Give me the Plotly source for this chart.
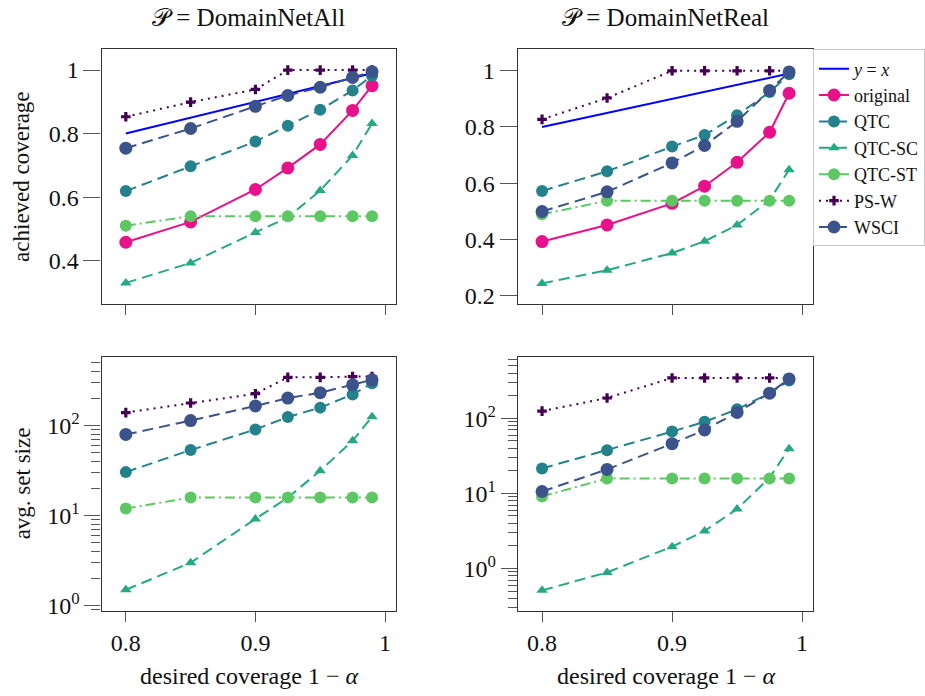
import plotly.graph_objects as go

W, H = 925, 696

# ---- data ----
x_cov = [0.8, 0.85, 0.9, 0.925, 0.95, 0.975, 0.99]
methods = ["original", "QTC", "QTC-SC", "QTC-ST", "PS-W", "WSCI"]

# achieved coverage, P = DomainNetAll
cov_all_original = [0.458, 0.522, 0.624, 0.692, 0.766, 0.873, 0.951]
cov_all_qtc = [0.619, 0.697, 0.775, 0.825, 0.875, 0.936, 0.982]
cov_all_qtcsc = [0.330, 0.393, 0.489, 0.536, 0.621, 0.731, 0.832]
cov_all_qtcst = [0.510, 0.540, 0.540, 0.540, 0.540, 0.540, 0.540]
cov_all_psw = [0.853, 0.899, 0.939, 1.0, 1.0, 1.0, 1.0]
cov_all_wsci = [0.754, 0.816, 0.886, 0.920, 0.946, 0.977, 0.995]

# achieved coverage, P = DomainNetReal
cov_real_original = [0.392, 0.451, 0.528, 0.589, 0.674, 0.781, 0.920]
cov_real_qtc = [0.572, 0.642, 0.730, 0.771, 0.842, 0.924, 0.988]
cov_real_qtcsc = [0.243, 0.290, 0.351, 0.393, 0.451, 0.539, 0.648]
cov_real_qtcst = [0.489, 0.537, 0.537, 0.537, 0.537, 0.537, 0.537]
cov_real_psw = [0.827, 0.903, 1.0, 1.0, 1.0, 1.0, 1.0]
cov_real_wsci = [0.499, 0.569, 0.672, 0.734, 0.820, 0.930, 0.996]

# avg set size, P = DomainNetAll
size_all_qtc = [30.5, 53.7, 91, 125, 159, 223, 296]
size_all_qtcsc = [1.5, 3.0, 9.2, 15.9, 31.6, 68, 126]
size_all_qtcst = [12, 15.9, 15.9, 15.9, 15.9, 15.9, 15.9]
size_all_psw = [140, 179, 227, 345, 345, 352, 352]
size_all_wsci = [80, 114, 166, 203, 233, 285, 324]

# avg set size, P = DomainNetReal
size_real_qtc = [21.5, 37.5, 66.7, 90, 132, 217, 319]
size_real_qtcsc = [0.51, 0.885, 1.95, 3.16, 6.2, 16.2, 39.5]
size_real_qtcst = [9.1, 15.8, 15.8, 15.8, 15.8, 15.8, 15.8]
size_real_psw = [125, 187, 346, 346, 346, 346, 346]
size_real_wsci = [10.6, 20.9, 46, 70, 120, 217, 336]

identity_x = [0.8, 0.99]

titles = ["\U0001D4AB = DomainNetAll", "\U0001D4AB = DomainNetReal"]
x_ticks = [0.8, 0.9, 1.0]
x_ticktext = ["0.8", "0.9", "1"]
cov_ticks_all = [0.4, 0.6, 0.8, 1.0]
cov_ticks_real = [0.2, 0.4, 0.6, 0.8, 1.0]
log_ticks = [1, 10, 100]
log_ticktext = ["10<sup>0</sup>", "10<sup>1</sup>", "10<sup>2</sup>"]
log_minor = [m * 10 ** e for e in range(-1, 3) for m in range(2, 10)]

# ---- styles ----
FONT = "Liberation Serif"
style = {
    "original": dict(color="#E8118A", dash="solid", symbol="circle", size=13),
    "QTC": dict(color="#23828C", dash="11px,6px", symbol="circle", size=12),
    "QTC-SC": dict(color="#25A884", dash="11px,6px", symbol="triangle-up", size=10),
    "QTC-ST": dict(color="#5DC863", dash="10px,4px,2px,4px", symbol="circle", size=12),
    "PS-W": dict(color="#440154", dash="2px,5px", symbol="cross", size=8),
    "WSCI": dict(color="#3B528B", dash="11px,6px", symbol="circle", size=13),
}

fig = go.Figure()

def px2x(p):
    return p / W

def px2y(p):
    return 1 - p / H

# panel pixel boxes
xdom_l = [px2x(101.7), px2x(396.7)]
xdom_r = [px2x(518.3), px2x(814.3)]
ydom_t = [px2y(307.7), px2y(50)]
ydom_b = [px2y(618.3), px2y(361)]

panels = [
    ("", xdom_l, ydom_t, dict(zip(methods, [cov_all_original, cov_all_qtc, cov_all_qtcsc, cov_all_qtcst, cov_all_psw, cov_all_wsci])), False, [0.263, 1.065], False),
    ("2", xdom_r, ydom_t, dict(zip(methods, [cov_real_original, cov_real_qtc, cov_real_qtcsc, cov_real_qtcst, cov_real_psw, cov_real_wsci])), False, [0.169, 1.076], True),
    ("3", xdom_l, ydom_b, dict(zip(methods[1:], [size_all_qtc, size_all_qtcsc, size_all_qtcst, size_all_psw, size_all_wsci])), True, [-0.062, 2.766], False),
    ("4", xdom_r, ydom_b, dict(zip(methods[1:], [size_real_qtc, size_real_qtcsc, size_real_qtcst, size_real_psw, size_real_wsci])), True, [-0.57, 2.82], False),
]

for suf, xd, yd, data, is_log, yr, showleg in panels:
    xa, ya = "x" + suf, "y" + suf
    if not is_log:
        fig.add_trace(go.Scatter(
            x=identity_x, y=identity_x, mode="lines", name="<i>y</i> = <i>x</i>",
            line=dict(color="#0000FF", width=2), xaxis=xa, yaxis=ya,
            legendgroup="yx", showlegend=showleg))
    for m in methods:
        if m not in data:
            continue
        s = style[m]
        fig.add_trace(go.Scatter(
            x=x_cov, y=data[m], mode="lines+markers", name=m,
            line=dict(color=s["color"], dash=s["dash"], width=2),
            marker=dict(color=s["color"], symbol=s["symbol"], size=s["size"]),
            xaxis=xa, yaxis=ya, legendgroup=m, showlegend=showleg))

axis_common = dict(showline=True, mirror=True, linecolor="#333333", linewidth=1.3,
                   showgrid=False, zeroline=False, ticks="outside", tickcolor="#555555",
                   tickfont=dict(family=FONT, size=24, color="#111111"))

layout = dict(
    width=W, height=H, margin=dict(l=0, r=0, t=0, b=0),
    paper_bgcolor="white", plot_bgcolor="white",
    font=dict(family=FONT, color="#111111"),
    legend=dict(x=px2x(814), y=px2y(50), xanchor="left", yanchor="top",
                bordercolor="#C8C8C8", borderwidth=1, bgcolor="white",
                font=dict(family=FONT, size=18), tracegroupgap=0, itemwidth=30),
)

for i, (suf, xd, yd, data, is_log, yr, showleg) in enumerate(panels):
    xkey = "xaxis" + suf
    ykey = "yaxis" + suf
    layout[xkey] = dict(axis_common, domain=xd, range=[0.7813, 1.0087],
                        tickvals=x_ticks, ticktext=x_ticktext, ticklen=10,
                        showticklabels=(i >= 2), anchor="y" + suf)
    if is_log:
        layout[ykey] = dict(axis_common, domain=yd, type="log", range=yr,
                            tickvals=log_ticks, ticktext=log_ticktext, ticklen=16,
                            minor=dict(tickvals=log_minor, ticks="outside", ticklen=9,
                                       tickcolor="#555555", showgrid=False),
                            anchor="x" + suf)
    else:
        tv = cov_ticks_all if i == 0 else cov_ticks_real
        layout[ykey] = dict(axis_common, domain=yd, range=yr,
                            tickvals=tv, ticktext=[("%g" % v) for v in tv], ticklen=17,
                            anchor="x" + suf)

fig.update_layout(**layout)

ann = []
for xc, t in [((101.7 + 396.7) / 2, titles[0]), ((518.3 + 814.3) / 2, titles[1])]:
    ann.append(dict(x=px2x(xc), y=px2y(18), xref="paper", yref="paper", text=t,
                    showarrow=False, xanchor="center", yanchor="middle",
                    font=dict(family=FONT, size=25)))
for xc in [(101.7 + 396.7) / 2, (518.3 + 814.3) / 2]:
    ann.append(dict(x=px2x(xc), y=px2y(684), xref="paper", yref="paper",
                    text="desired coverage 1 \u2212 <i>\u03b1</i>",
                    showarrow=False, xanchor="center", yanchor="middle",
                    font=dict(family=FONT, size=24)))
for yc, t in [(179, "achieved coverage"), (489, "avg. set size")]:
    ann.append(dict(x=px2x(22), y=px2y(yc), xref="paper", yref="paper", text=t,
                    showarrow=False, xanchor="center", yanchor="middle", textangle=-90,
                    font=dict(family=FONT, size=23)))
fig.update_layout(annotations=ann)

fig.write_html("out.html")
